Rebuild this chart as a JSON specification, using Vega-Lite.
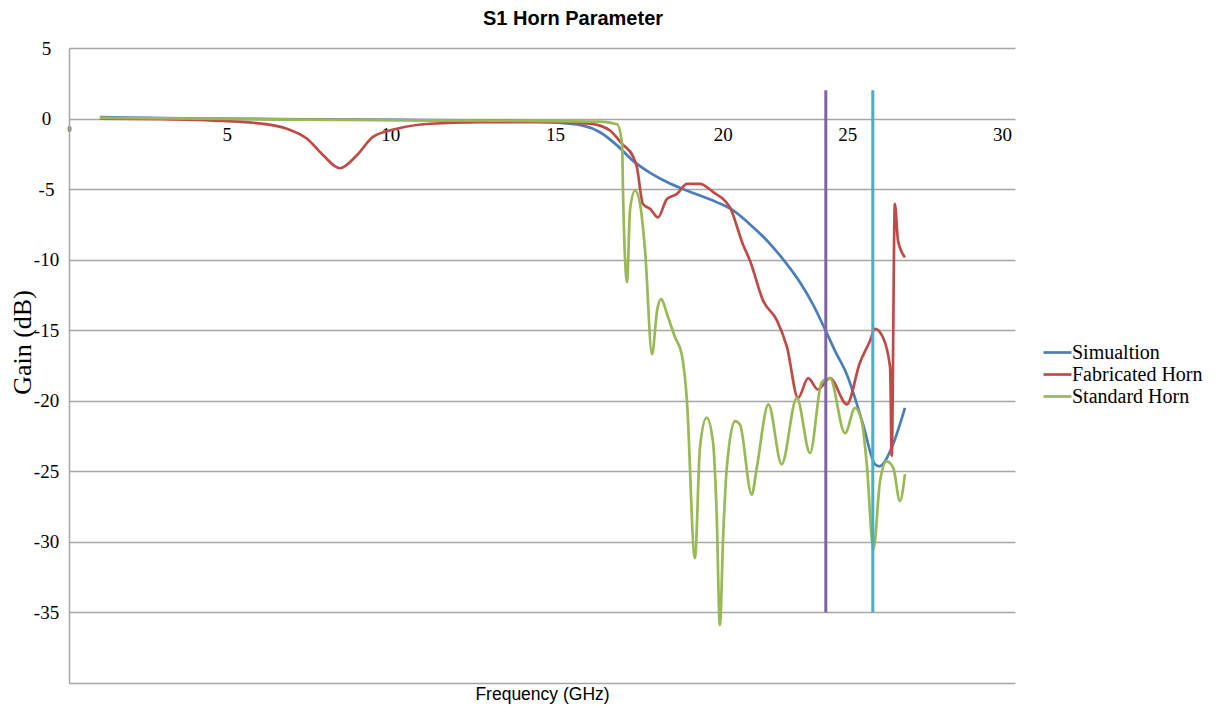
{
  "$schema": "https://vega.github.io/schema/vega-lite/v6.json",
  "width": 946,
  "height": 635,
  "autosize": {"type": "none"},
  "padding": {"left": 69, "top": 48, "right": 206, "bottom": 26},
  "background": "white",
  "title": {"text": "S1 Horn Parameter", "font": "Liberation Sans", "fontSize": 20, "fontWeight": "bold", "color": "#000000", "anchor": "middle", "frame": "group", "dx": 31, "offset": 10},
  "config": {"view": {"stroke": null}},
  "layer": [
    {
      "data": {"values": [
        {"series": "Simualtion", "freq": 0.98, "gain": 0.1},
        {"series": "Simualtion", "freq": 2.5, "gain": 0.05},
        {"series": "Simualtion", "freq": 4.15, "gain": 0.0},
        {"series": "Simualtion", "freq": 7.33, "gain": -0.05},
        {"series": "Simualtion", "freq": 10.5, "gain": -0.1},
        {"series": "Simualtion", "freq": 13.67, "gain": -0.15},
        {"series": "Simualtion", "freq": 15.25, "gain": -0.25},
        {"series": "Simualtion", "freq": 16.3, "gain": -0.5},
        {"series": "Simualtion", "freq": 16.84, "gain": -0.97},
        {"series": "Simualtion", "freq": 17.38, "gain": -1.9},
        {"series": "Simualtion", "freq": 17.89, "gain": -3.0},
        {"series": "Simualtion", "freq": 18.43, "gain": -3.85},
        {"series": "Simualtion", "freq": 18.96, "gain": -4.5},
        {"series": "Simualtion", "freq": 19.47, "gain": -5.0},
        {"series": "Simualtion", "freq": 20.01, "gain": -5.46},
        {"series": "Simualtion", "freq": 20.55, "gain": -5.94},
        {"series": "Simualtion", "freq": 21.06, "gain": -6.5},
        {"series": "Simualtion", "freq": 21.6, "gain": -7.5},
        {"series": "Simualtion", "freq": 22.14, "gain": -8.66},
        {"series": "Simualtion", "freq": 22.64, "gain": -9.96},
        {"series": "Simualtion", "freq": 23.18, "gain": -11.6},
        {"series": "Simualtion", "freq": 23.6, "gain": -13.2},
        {"series": "Simualtion", "freq": 24.01, "gain": -15.1},
        {"series": "Simualtion", "freq": 24.3, "gain": -16.5},
        {"series": "Simualtion", "freq": 24.66, "gain": -18.1},
        {"series": "Simualtion", "freq": 25.18, "gain": -21.65},
        {"series": "Simualtion", "freq": 25.56, "gain": -24.5},
        {"series": "Simualtion", "freq": 25.7, "gain": -24.65},
        {"series": "Simualtion", "freq": 25.81, "gain": -24.5},
        {"series": "Simualtion", "freq": 26.13, "gain": -23.1},
        {"series": "Simualtion", "freq": 26.51, "gain": -20.5},
        {"series": "Fabricated Horn", "freq": 0.98, "gain": 0.0},
        {"series": "Fabricated Horn", "freq": 3.0, "gain": -0.05},
        {"series": "Fabricated Horn", "freq": 4.57, "gain": -0.14},
        {"series": "Fabricated Horn", "freq": 6.15, "gain": -0.37},
        {"series": "Fabricated Horn", "freq": 6.91, "gain": -0.72},
        {"series": "Fabricated Horn", "freq": 7.55, "gain": -1.43},
        {"series": "Fabricated Horn", "freq": 8.06, "gain": -2.6},
        {"series": "Fabricated Horn", "freq": 8.59, "gain": -3.52},
        {"series": "Fabricated Horn", "freq": 9.13, "gain": -2.6},
        {"series": "Fabricated Horn", "freq": 9.64, "gain": -1.3},
        {"series": "Fabricated Horn", "freq": 10.4, "gain": -0.72},
        {"series": "Fabricated Horn", "freq": 11.45, "gain": -0.37},
        {"series": "Fabricated Horn", "freq": 13.03, "gain": -0.25},
        {"series": "Fabricated Horn", "freq": 15.16, "gain": -0.25},
        {"series": "Fabricated Horn", "freq": 16.52, "gain": -0.37},
        {"series": "Fabricated Horn", "freq": 16.84, "gain": -0.5},
        {"series": "Fabricated Horn", "freq": 17.16, "gain": -0.85},
        {"series": "Fabricated Horn", "freq": 17.54, "gain": -1.8},
        {"series": "Fabricated Horn", "freq": 17.89, "gain": -2.7},
        {"series": "Fabricated Horn", "freq": 18.01, "gain": -3.45},
        {"series": "Fabricated Horn", "freq": 18.2, "gain": -6.05},
        {"series": "Fabricated Horn", "freq": 18.43, "gain": -6.4},
        {"series": "Fabricated Horn", "freq": 18.68, "gain": -7.0},
        {"series": "Fabricated Horn", "freq": 18.96, "gain": -5.7},
        {"series": "Fabricated Horn", "freq": 19.28, "gain": -5.34},
        {"series": "Fabricated Horn", "freq": 19.6, "gain": -4.63},
        {"series": "Fabricated Horn", "freq": 20.01, "gain": -4.63},
        {"series": "Fabricated Horn", "freq": 20.42, "gain": -5.2},
        {"series": "Fabricated Horn", "freq": 20.96, "gain": -6.3},
        {"series": "Fabricated Horn", "freq": 21.37, "gain": -8.9},
        {"series": "Fabricated Horn", "freq": 21.6, "gain": -10.1},
        {"series": "Fabricated Horn", "freq": 22.01, "gain": -12.9},
        {"series": "Fabricated Horn", "freq": 22.45, "gain": -14.3},
        {"series": "Fabricated Horn", "freq": 22.77, "gain": -16.2},
        {"series": "Fabricated Horn", "freq": 23.12, "gain": -19.8},
        {"series": "Fabricated Horn", "freq": 23.44, "gain": -18.4},
        {"series": "Fabricated Horn", "freq": 23.75, "gain": -19.2},
        {"series": "Fabricated Horn", "freq": 24.13, "gain": -18.4},
        {"series": "Fabricated Horn", "freq": 24.67, "gain": -20.25},
        {"series": "Fabricated Horn", "freq": 25.08, "gain": -17.3},
        {"series": "Fabricated Horn", "freq": 25.4, "gain": -15.76},
        {"series": "Fabricated Horn", "freq": 25.56, "gain": -14.9},
        {"series": "Fabricated Horn", "freq": 25.81, "gain": -15.5},
        {"series": "Fabricated Horn", "freq": 26.04, "gain": -17.65},
        {"series": "Fabricated Horn", "freq": 26.09, "gain": -23.9},
        {"series": "Fabricated Horn", "freq": 26.19, "gain": -6.05},
        {"series": "Fabricated Horn", "freq": 26.29, "gain": -8.66},
        {"series": "Fabricated Horn", "freq": 26.51, "gain": -9.84},
        {"series": "Standard Horn", "freq": 0.98, "gain": 0.05},
        {"series": "Standard Horn", "freq": 4.15, "gain": 0.0},
        {"series": "Standard Horn", "freq": 7.33, "gain": -0.08},
        {"series": "Standard Horn", "freq": 10.5, "gain": -0.12},
        {"series": "Standard Horn", "freq": 13.67, "gain": -0.15},
        {"series": "Standard Horn", "freq": 16.84, "gain": -0.22},
        {"series": "Standard Horn", "freq": 17.38, "gain": -0.4},
        {"series": "Standard Horn", "freq": 17.54, "gain": -1.8},
        {"series": "Standard Horn", "freq": 17.57, "gain": -5.3},
        {"series": "Standard Horn", "freq": 17.7, "gain": -11.6},
        {"series": "Standard Horn", "freq": 17.79, "gain": -6.5},
        {"series": "Standard Horn", "freq": 17.95, "gain": -5.1},
        {"series": "Standard Horn", "freq": 18.11, "gain": -6.05},
        {"series": "Standard Horn", "freq": 18.27, "gain": -9.4},
        {"series": "Standard Horn", "freq": 18.49, "gain": -16.7},
        {"series": "Standard Horn", "freq": 18.65, "gain": -13.6},
        {"series": "Standard Horn", "freq": 18.77, "gain": -12.8},
        {"series": "Standard Horn", "freq": 19.0, "gain": -14.1},
        {"series": "Standard Horn", "freq": 19.22, "gain": -15.5},
        {"series": "Standard Horn", "freq": 19.43, "gain": -16.7},
        {"series": "Standard Horn", "freq": 19.59, "gain": -19.8},
        {"series": "Standard Horn", "freq": 19.85, "gain": -31.15},
        {"series": "Standard Horn", "freq": 20.01, "gain": -23.3},
        {"series": "Standard Horn", "freq": 20.22, "gain": -21.2},
        {"series": "Standard Horn", "freq": 20.42, "gain": -22.86},
        {"series": "Standard Horn", "freq": 20.54, "gain": -28.1},
        {"series": "Standard Horn", "freq": 20.64, "gain": -35.9},
        {"series": "Standard Horn", "freq": 20.75, "gain": -29.3},
        {"series": "Standard Horn", "freq": 20.86, "gain": -24.76},
        {"series": "Standard Horn", "freq": 21.12, "gain": -21.44},
        {"series": "Standard Horn", "freq": 21.28, "gain": -21.7},
        {"series": "Standard Horn", "freq": 21.65, "gain": -26.65},
        {"series": "Standard Horn", "freq": 21.81, "gain": -24.76},
        {"series": "Standard Horn", "freq": 22.18, "gain": -20.26},
        {"series": "Standard Horn", "freq": 22.6, "gain": -24.5},
        {"series": "Standard Horn", "freq": 23.08, "gain": -19.8},
        {"series": "Standard Horn", "freq": 23.5, "gain": -23.7},
        {"series": "Standard Horn", "freq": 23.87, "gain": -18.7},
        {"series": "Standard Horn", "freq": 24.13, "gain": -18.4},
        {"series": "Standard Horn", "freq": 24.61, "gain": -22.3},
        {"series": "Standard Horn", "freq": 24.93, "gain": -20.5},
        {"series": "Standard Horn", "freq": 25.14, "gain": -21.44},
        {"series": "Standard Horn", "freq": 25.3, "gain": -24.5},
        {"series": "Standard Horn", "freq": 25.51, "gain": -30.5},
        {"series": "Standard Horn", "freq": 25.72, "gain": -25.7},
        {"series": "Standard Horn", "freq": 25.93, "gain": -24.3},
        {"series": "Standard Horn", "freq": 26.14, "gain": -24.76},
        {"series": "Standard Horn", "freq": 26.35, "gain": -27.1},
        {"series": "Standard Horn", "freq": 26.51, "gain": -25.2}
      ]},
      "mark": {"type": "line", "interpolate": "monotone", "strokeWidth": 2.7},
      "encoding": {
        "x": {
          "field": "freq", "type": "quantitative",
          "scale": {"domain": [0, 30], "nice": false, "zero": false},
          "axis": {
            "orient": "bottom", "offset": -564.7,
            "values": [0, 5, 10, 15, 20, 25, 30],
            "grid": false, "ticks": false, "domain": false,
            "labelFont": "Liberation Serif",
            "labelFontSize": {"expr": "datum.value == 0 ? 8 : 19"},
            "labelOffset": {"expr": "datum.value == 10 ? 6 : datum.value == 15 ? 13 : datum.value == 20 ? 23 : datum.value == 25 ? -10 : datum.value == 30 ? -13 : 0"},
            "labelColor": "#000000", "labelPadding": 7, "labelFlush": false, "labelOverlap": false,
            "title": "Frequency (GHz)", "titleFont": "Liberation Sans", "titleFontSize": 17.5,
            "titleFontWeight": "normal", "titleColor": "#000000",
            "titleY": 567, "titleBaseline": "top"
          }
        },
        "y": {
          "field": "gain", "type": "quantitative",
          "scale": {"domain": [-40, 5], "nice": false, "zero": false},
          "axis": {
            "values": [-40, -35, -30, -25, -20, -15, -10, -5, 0, 5],
            "grid": true, "gridColor": "#a6a6a6", "gridWidth": 1.5,
            "domain": true, "domainColor": "#a6a6a6", "domainWidth": 1.5,
            "ticks": false,
            "labelFont": "Liberation Serif", "labelFontSize": 19, "labelColor": "#000000",
            "labelAlign": "center", "labelPadding": 23,
            "labelExpr": "datum.value == -40 ? '' : '' + datum.value",
            "title": "Gain (dB)", "titleFont": "Liberation Serif", "titleFontSize": 26,
            "titleFontWeight": "normal", "titleColor": "#000000",
            "titleAngle": -90, "titleX": -47, "titleY": 294,
            "titleAlign": "center", "titleBaseline": "middle"
          }
        },
        "color": {
          "field": "series", "type": "nominal",
          "scale": {"domain": ["Simualtion", "Fabricated Horn", "Standard Horn"], "range": ["#4a7ebb", "#be4b48", "#98b954"]},
          "legend": {
            "orient": "none", "legendX": 977, "legendY": 293, "title": null,
            "symbolType": "M-1.4,0H1.4", "symbolStrokeWidth": 2.7, "symbolSize": 400,
            "labelFont": "Liberation Serif", "labelFontSize": 20, "labelColor": "#000000",
            "labelOffset": 3, "rowPadding": 0
          }
        }
      }
    },
    {
      "data": {"values": [
        {"line": "purple", "freq": 24.0, "top": 2, "bottom": -35},
        {"line": "cyan", "freq": 25.49, "top": 2, "bottom": -35}
      ]},
      "mark": {"type": "rule", "strokeWidth": 3},
      "encoding": {
        "x": {"field": "freq", "type": "quantitative"},
        "y": {"field": "top", "type": "quantitative"},
        "y2": {"field": "bottom"},
        "color": {"field": "line", "type": "nominal", "scale": {"domain": ["purple", "cyan"], "range": ["#8064a2", "#4bacc6"]}, "legend": null}
      }
    }
  ],
  "resolve": {"scale": {"color": "independent"}}
}
